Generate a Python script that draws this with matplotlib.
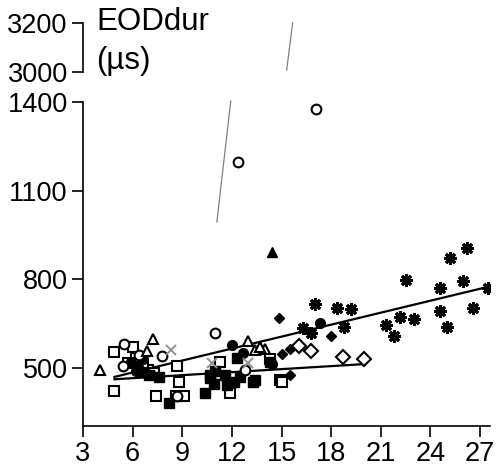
import matplotlib
matplotlib.use('Agg')
import matplotlib.pyplot as plt

plt.rcParams['font.family'] = ['Liberation Sans', 'DejaVu Sans']

# data (EOD duration vs size)
openSqX = [4.9, 6.0, 6.2, 6.9, 5.7, 7.3, 4.9, 7.4, 8.6, 9.1, 8.7, 8.8, 11.3, 11.9, 14.3, 14.9, 15.0, 6.6]
openSqY = [553, 571, 533, 495, 517, 483, 422, 405, 407, 407, 507, 452, 521, 414, 531, 458, 452, 503]
fillSqX = [8.2, 10.4, 10.7, 10.7, 11.6, 11.7, 12.1, 12.3, 13.4, 14.3, 13.3, 7.0, 7.6, 6.6, 11.0, 12.5, 10.9]
fillSqY = [383, 414, 476, 465, 476, 443, 454, 533, 459, 521, 454, 478, 470, 488, 490, 470, 445]
fillCircX = [12.0, 12.7, 17.3, 14.4, 5.9, 6.3, 6.6, 6.2, 7.1]
fillCircY = [578, 550, 652, 513, 520, 505, 530, 490, 475]
openCircX = [17.1, 12.35, 11.0, 5.5, 5.4, 7.8, 8.7, 12.8, 6.4]
openCircY = [1376, 1197, 617, 581, 507, 542, 407, 493, 545]
openTriX = [4.0, 7.25, 6.85, 12.95, 13.4, 14.0, 13.7]
openTriY = [493, 598, 558, 592, 561, 563, 572]
fillTriX = [14.4]
fillTriY = [892]
fillDiaX = [14.85, 18.0, 15.0, 15.5, 15.5]
fillDiaY = [668, 609, 546, 563, 476]
openDiaX = [16.05, 16.75, 18.7, 20.0]
openDiaY = [574, 558, 538, 529]
grayXX = [8.3, 10.8, 13.0]
grayXY = [560, 516, 516]
starX = [26.2, 25.2, 22.5, 25.95, 24.55, 27.5, 17.0, 18.35, 19.2, 24.6, 26.55,
         22.15, 23.0, 21.3, 25.0, 21.8, 18.75, 16.3, 16.8]
starY = [907, 873, 797, 793, 772, 772, 717, 704, 700, 694, 703,
         672, 665, 644, 640, 607, 639, 636, 619]

# regression lines
fitUpX = [4.9, 27.5]
fitUpY = [470, 775]
fitLoX = [4.9, 19.9]
fitLoY = [462, 513]

xTicks = [3, 6, 9, 12, 15, 18, 21, 24, 27]
yTicks = [500, 800, 1100, 1400]
yTicksTop = [3000, 3200]

fig = plt.figure(figsize=(4.96, 4.73), dpi=100)
ax = fig.add_axes([0.1673, 0.0994, 0.8207, 0.685])
axTop = fig.add_axes([0.1673, 0.8478, 0.8207, 0.1036])

fs = 19.5
mew = 1.5
ax.plot(fitUpX, fitUpY, color='black', lw=1.6, zorder=1)
ax.plot(fitLoX, fitLoY, color='black', lw=1.6, zorder=1)

ax.plot(openSqX, openSqY, 's', ms=7.5, mfc='white', mec='black', mew=mew, ls='none')
ax.plot(fillSqX, fillSqY, 's', ms=7, mfc='black', mec='black', ls='none')
ax.plot(fillCircX, fillCircY, 'o', ms=7, mfc='black', mec='black', ls='none')
ax.plot(openCircX, openCircY, 'o', ms=7, mfc='white', mec='black', mew=mew, ls='none')
ax.plot(openTriX, openTriY, '^', ms=7.5, mfc='white', mec='black', mew=mew, ls='none')
ax.plot(fillTriX, fillTriY, '^', ms=7, mfc='black', mec='black', ls='none')
ax.plot(fillDiaX, fillDiaY, 'D', ms=5, mfc='black', mec='black', ls='none')
ax.plot(openDiaX, openDiaY, 'D', ms=7.5, mfc='white', mec='black', mew=mew, ls='none')
ax.plot(grayXX, grayXY, 'x', ms=7.5, mec='#909090', mew=1.4, ls='none')
ax.plot(starX, starY, 's', ms=5, mfc='black', mec='black', ls='none')
ax.plot(starX, starY, marker=(8, 2, 0), ms=9, mec='black', mew=2.2, ls='none')

ax.set_xlim(3, 27.6)
ax.set_ylim(304, 1400)
ax.set_xticks(xTicks)
ax.set_yticks(yTicks)
ax.spines['top'].set_visible(False)
ax.spines['right'].set_visible(False)
ax.tick_params(labelsize=fs, length=8, width=1.2, pad=3)
for s in ['left', 'bottom']:
    ax.spines[s].set_linewidth(1.2)

axTop.set_xlim(3, 27.6)
axTop.set_ylim(3000, 3200)
axTop.set_yticks(yTicksTop)
axTop.set_xticks([])
for s in ['top', 'right', 'bottom']:
    axTop.spines[s].set_visible(False)
axTop.spines['left'].set_linewidth(1.2)
axTop.tick_params(labelsize=fs, length=8, width=1.2, pad=3)
axTop.patch.set_alpha(0)

# gray slanted marks
ax.plot([11.09, 11.93], [994, 1403], color='#808080', lw=0.9, clip_on=False)
axTop.plot([15.31, 15.67], [3008, 3200], color='#808080', lw=0.9, clip_on=False)

fig.text(96 / 496, 1 - 22 / 473, 'EODdur', fontsize=22.5, va='center', ha='left')
fig.text(96 / 496, 1 - 61 / 473, '(µs)', fontsize=22.5, va='center', ha='left')

fig.savefig('out.png', dpi=100)
